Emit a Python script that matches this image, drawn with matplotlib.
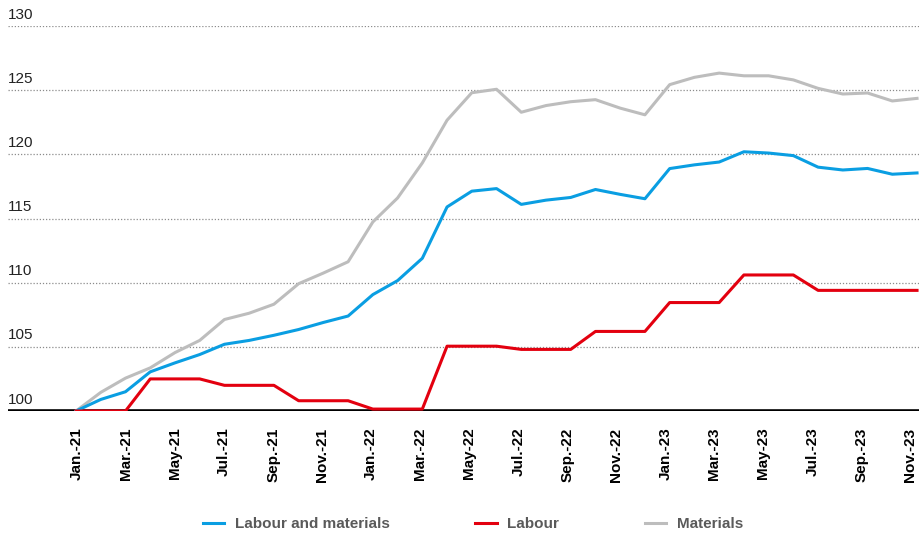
import matplotlib
matplotlib.use("Agg")
import matplotlib.pyplot as plt
import numpy as np

plt.rcParams['font.family'] = ['Liberation Sans', 'DejaVu Sans']

# monthly index, Jan-21 .. Nov-23 (Jan-21 = 100)
months = ["Jan.-21", "Feb.-21", "Mar.-21", "Apr.-21", "May-21", "Jun.-21",
          "Jul.-21", "Aug.-21", "Sep.-21", "Oct.-21", "Nov.-21", "Dec.-21",
          "Jan.-22", "Feb.-22", "Mar.-22", "Apr.-22", "May-22", "Jun.-22",
          "Jul.-22", "Aug.-22", "Sep.-22", "Oct.-22", "Nov.-22", "Dec.-22",
          "Jan.-23", "Feb.-23", "Mar.-23", "Apr.-23", "May-23", "Jun.-23",
          "Jul.-23", "Aug.-23", "Sep.-23", "Oct.-23", "Nov.-23"]

labour_materials = [100.0, 100.9, 101.5, 103.05, 103.75, 104.4, 105.2, 105.5, 105.9, 106.35,
                    106.9, 107.4, 109.07, 110.16, 111.9, 115.9, 117.13, 117.33, 116.1, 116.43,
                    116.64, 117.26, 116.88, 116.54, 118.89, 119.18, 119.4, 120.2, 120.1, 119.9,
                    119.0, 118.78, 118.9, 118.45, 118.55]

labour = [100.0, 100.0, 100.0, 102.5, 102.5, 102.5, 102.0, 102.0, 102.0, 100.8,
          100.8, 100.8, 100.15, 100.15, 100.15, 105.05, 105.05, 105.05, 104.8, 104.8,
          104.8, 106.2, 106.2, 106.2, 108.45, 108.45, 108.45, 110.6, 110.6, 110.6,
          109.4, 109.4, 109.4, 109.4, 109.4]

materials = [100.0, 101.45, 102.56, 103.36, 104.55, 105.5, 107.13, 107.62, 108.32, 109.92,
             110.75, 111.63, 114.73, 116.6, 119.33, 122.66, 124.8, 125.07, 123.28, 123.8,
             124.1, 124.26, 123.6, 123.08, 125.43, 126.0, 126.33, 126.12, 126.12, 125.8,
             125.14, 124.7, 124.78, 124.16, 124.36]

yticks = [100, 105, 110, 115, 120, 125, 130]

BLUE = "#0a9ee2"
RED = "#e3000f"
GREY = "#bdbdbd"

x = np.arange(len(months))

fig = plt.figure(figsize=(9.2, 5.37), dpi=100)
ax = fig.add_axes([8 / 920, 1 - 411 / 537, 912 / 920, 385 / 537])

for v in yticks[1:]:
    ax.axhline(v, color="#8c8c8c", lw=0.9, ls=(0, (1, 1.5)), zorder=1)
ax.axhline(100, color="black", lw=2.6, zorder=2)

ax.plot(x, labour_materials, color=BLUE, lw=2.2, label="Labour and materials", zorder=4)
ax.plot(x, labour, color=RED, lw=2.2, label="Labour", zorder=5)
ax.plot(x, materials, color=GREY, lw=2.2, label="Materials", zorder=3)

ax.set_xlim(-2.75, 34.12)
ax.set_ylim(100, 130)

for s in ax.spines.values():
    s.set_visible(False)

ax.set_yticks([])
for v in yticks:
    ax.text(0, v + 0.35, str(v), transform=ax.get_yaxis_transform(),
            ha="left", va="bottom", fontsize=11, color="#222222")

# bimonthly labels sit slightly tighter than the monthly points
tick_pos = x[::2] * 0.991 + 0.04
ax.set_xticks(tick_pos)
ax.set_xticklabels(months[::2], rotation=90, fontsize=11, fontweight="bold", color="black")
ax.tick_params(axis="x", length=0, pad=12)

fig.legend(loc="center", bbox_to_anchor=(0.514, 1 - 524 / 537), ncol=3, frameon=False,
           handlelength=1.4, handletextpad=0.7, columnspacing=5.6,
           prop={"weight": "bold", "size": 11}, labelcolor="#5a5a5a")

fig.savefig("out.png", dpi=100)
